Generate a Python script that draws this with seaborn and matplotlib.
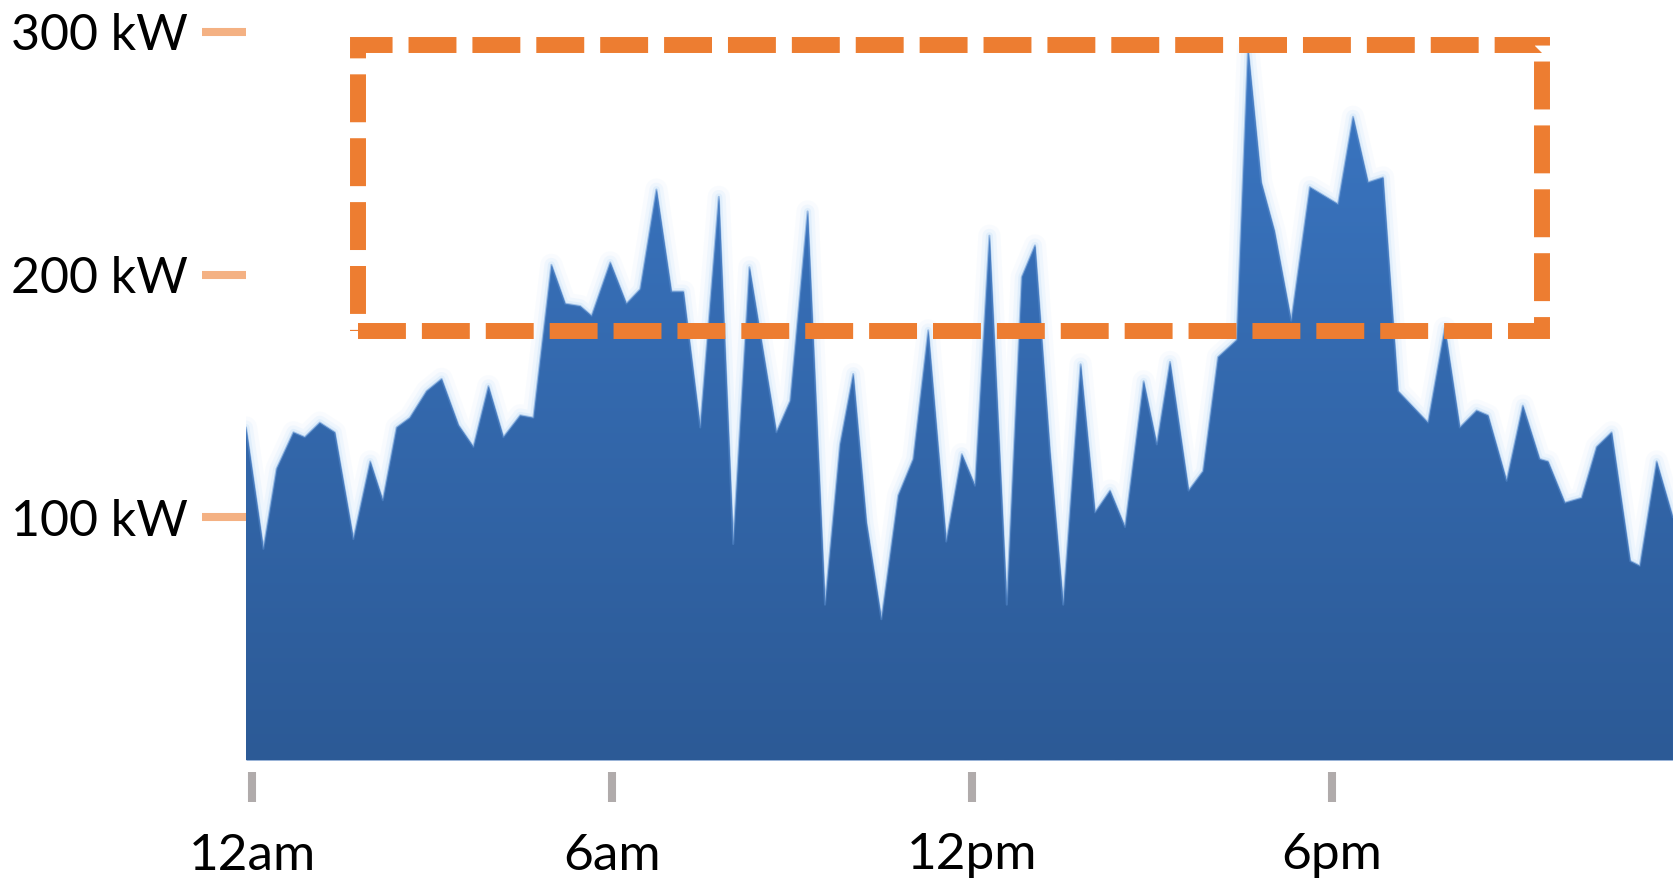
import numpy as np
import pandas as pd
import matplotlib
matplotlib.use("Agg")
import matplotlib.pyplot as plt
import seaborn as sns
from matplotlib.patches import Rectangle
from matplotlib.colors import LinearSegmentedColormap

# ---- data (hour of day, kW) ----
hours = [-0.10, 0.19, 0.41, 0.69, 0.88, 1.13, 1.38, 1.69, 1.97, 2.18,
         2.41, 2.63, 2.91, 3.16, 3.44, 3.69, 3.94, 4.19, 4.47, 4.69,
         4.99, 5.22, 5.47, 5.66, 5.97, 6.24, 6.47, 6.74, 6.99, 7.19,
         7.47, 7.78, 8.02, 8.29, 8.74, 8.97, 9.26, 9.55, 9.80, 10.02,
         10.24, 10.49, 10.77, 11.02, 11.27, 11.57, 11.83, 12.05, 12.29, 12.58,
         12.83, 13.05, 13.30, 13.52, 13.81, 14.05, 14.30, 14.55, 14.86, 15.08,
         15.30, 15.61, 15.85, 16.10, 16.41, 16.60, 16.82, 17.04, 17.32, 17.63,
         18.10, 18.35, 18.60, 18.85, 19.10, 19.60, 19.88, 20.13, 20.41, 20.60,
         20.91, 21.18, 21.46, 21.60, 21.88, 22.16, 22.41, 22.66, 22.97, 23.13,
         23.41, 23.68]
kw = [137, 87, 120, 135, 133, 139, 135, 91, 123, 107,
      137, 141, 152, 157, 138, 129, 154, 133, 142, 141,
      204, 188, 187, 183, 205, 188, 194, 235, 193, 193,
      137, 232, 89, 203, 135, 148, 226, 64, 130, 159,
      98, 58, 109, 124, 177, 90, 126, 113, 216, 64,
      199, 212, 127, 64, 163, 102, 111, 96, 156, 130,
      164, 111, 119, 166, 173, 293, 238, 218, 181, 236,
      229, 265, 238, 240, 152, 139, 178, 137, 144, 142,
      115, 146, 124, 123, 106, 108, 129, 135, 82, 80,
      123, 100]

y_ticks = [100, 200, 300]
y_tick_labels = ["100 kW", "200 kW", "300 kW"]
x_ticks = [0, 6, 12, 18]
x_tick_labels = ["12am", "6am", "12pm", "6pm"]
box_hours = [1.77, 21.5]
box_kw = [176.6, 294.6]

sns.set_theme(style="white")
plt.rcParams['font.family'] = ['Lato', 'DejaVu Sans']

W, H = 1673, 886
fig = plt.figure(figsize=(W / 100, H / 100), dpi=100)
fig.patch.set_facecolor("white")
ax = fig.add_axes([246 / W, 126 / H, 1 - 246 / W, 1 - 126 / H])
df = pd.DataFrame({"hour": hours, "kw": kw})

x0, x1 = -0.10, 23.683
y0, y1 = 0, 313.1

# soft light halo along the edge (layered to look blurred)
for lw, a in [(16, 0.12), (10, 0.22), (5, 0.45)]:
    sns.lineplot(data=df, x="hour", y="kw", ax=ax, color="#CFE5FA",
                 linewidth=lw, zorder=1, alpha=a)
poly = ax.fill_between(df["hour"], df["kw"], 0, color="#3468B0",
                       linewidth=0, zorder=2)
grad = np.linspace(0, 1, 256).reshape(-1, 1)
cmap = LinearSegmentedColormap.from_list("g", ["#2C5A96", "#3B77C4"])
im = ax.imshow(grad, extent=[x0, x1, 0, 300], origin="lower",
               aspect="auto", cmap=cmap, zorder=3, interpolation="bilinear")
im.set_clip_path(poly.get_paths()[0], transform=ax.transData)
# slightly soften the top edge of the fill
sns.lineplot(data=df, x="hour", y="kw", ax=ax, color="#5B8FD0",
             linewidth=1.5, zorder=4, alpha=0.5)

ax.add_patch(Rectangle((box_hours[0], box_kw[0]),
                       box_hours[1] - box_hours[0], box_kw[1] - box_kw[0],
                       fill=False, edgecolor="#ED7D31", linewidth=11.5,
                       linestyle=(0, (3, 1)), joinstyle="miter",
                       zorder=5, clip_on=False))

ax.set_xlim(x0, x1)
ax.set_ylim(y0, y1)
ax.set_xlabel("")
ax.set_ylabel("")
for s in ax.spines.values():
    s.set_visible(False)
ax.spines["bottom"].set_position(("outward", 8.6))

ax.set_yticks(y_ticks, y_tick_labels)
ax.set_xticks(x_ticks, x_tick_labels)
ax.tick_params(axis="y", left=True, length=31.7, width=5.8,
               color="#F4B183", pad=10, labelsize=36, labelcolor="black")
ax.tick_params(axis="x", bottom=True, length=21.6, width=5.8,
               color="#B0ABAB", pad=22, labelsize=37, labelcolor="black")
ax.grid(False)

fig.savefig("out.png", dpi=100, facecolor="white")
